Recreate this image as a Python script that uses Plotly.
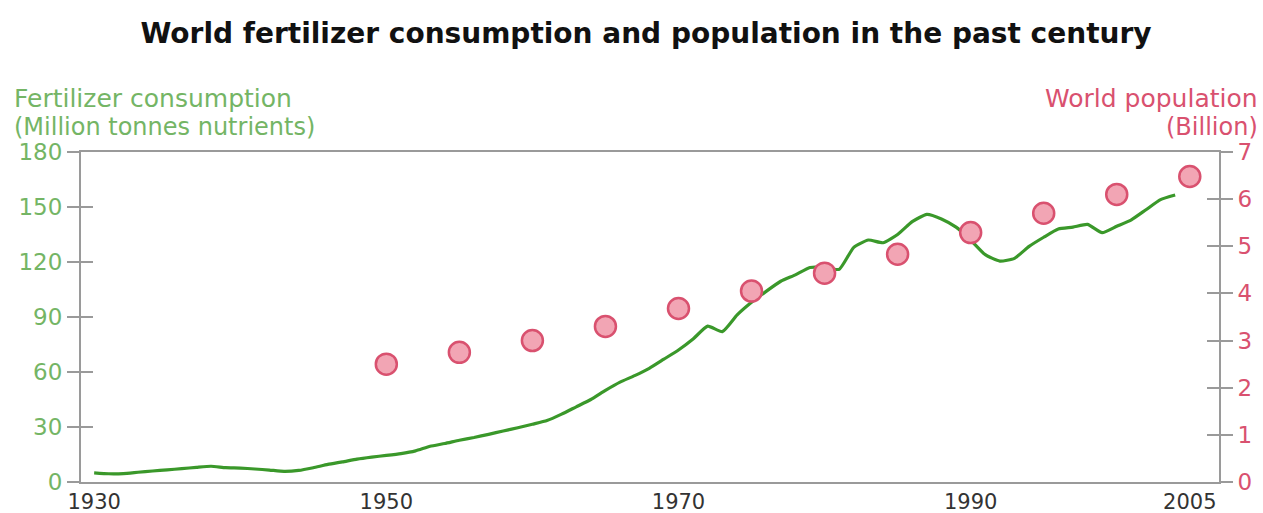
import plotly.graph_objects as go

# ---- data ----
fert_years = list(range(1930, 2005))
fert_values = [
    5.0, 4.5, 4.6, 5.3, 6.0, 6.6, 7.3, 8.0, 8.6, 7.8,
    7.6, 7.1, 6.5, 5.8, 6.3, 7.8, 9.6, 11.0, 12.5, 13.6,
    14.5, 15.5, 17.0, 19.5, 21.0, 22.8, 24.3, 26.0, 27.8, 29.6,
    31.5, 33.5, 37.0, 41.0, 45.0, 50.0, 54.5, 58.0, 62.0, 67.0,
    72.0, 78.0, 85.0, 82.0, 91.0, 98.0, 104.0, 109.5, 113.0, 117.0,
    117.0, 116.0, 128.0, 132.0, 130.5, 135.0, 142.0, 146.0, 143.5, 139.0,
    132.0, 124.0, 120.5, 122.0, 128.5, 133.5, 138.0, 139.0, 140.5, 136.0,
    139.5, 143.0, 148.5, 154.0, 156.5,
]
pop_years = [1950, 1955, 1960, 1965, 1970, 1975, 1980, 1985, 1990, 1995, 2000, 2005]
pop_values = [2.5, 2.75, 3.0, 3.3, 3.68, 4.05, 4.43, 4.83, 5.29, 5.7, 6.1, 6.48]

x_ticks = [1930, 1950, 1970, 1990, 2005]
left_ticks = [0, 30, 60, 90, 120, 150, 180]
right_ticks = [0, 1, 2, 3, 4, 5, 6, 7]

GREEN_TXT = "#74b565"
GREEN_LINE = "#3a982a"
PINK = "#d9516f"
AXIS = "#9a9a9a"
FONT = "DejaVu Sans"

fig = go.Figure()
fig.add_trace(go.Scatter(
    x=fert_years, y=fert_values, mode="lines",
    line=dict(color=GREEN_LINE, width=3.2, shape="spline", smoothing=0.5),
    yaxis="y", showlegend=False,
))
fig.add_trace(go.Scatter(
    x=pop_years, y=pop_values, mode="markers",
    marker=dict(size=21, color="#f2a5b4", line=dict(color=PINK, width=2.5)),
    yaxis="y2", showlegend=False,
))
# empty traces so the inside-tick overlay axes are drawn
fig.add_trace(go.Scatter(x=[], y=[], yaxis="y3", showlegend=False))
fig.add_trace(go.Scatter(x=[], y=[], yaxis="y4", showlegend=False))

fig.update_layout(
    width=1263, height=513,
    margin=dict(l=81, r=44, t=152, b=31, autoexpand=False),
    paper_bgcolor="white", plot_bgcolor="white",
    font=dict(family=FONT),
    title=dict(
        text="<b>World fertilizer consumption and population in the past century</b>",
        x=646 / 1263, xanchor="center", y=1 - 33 / 513, yanchor="middle",
        font=dict(size=28, color="#111111", family=FONT),
    ),
    xaxis=dict(
        range=[1929.1, 2007.0], tickvals=x_ticks, ticks="",
        showline=True, linecolor=AXIS, linewidth=2, mirror=True,
        showgrid=False, zeroline=False, automargin=False,
        tickfont=dict(size=21, color="#333333"),
    ),
    yaxis=dict(
        range=[0, 180], tickvals=left_ticks, ticks="outside", ticklen=12,
        tickcolor=AXIS, tickwidth=2, showline=True, linecolor=AXIS, linewidth=2,
        showgrid=False, zeroline=False, automargin=False,
        tickfont=dict(size=23, color=GREEN_TXT),
    ),
    yaxis2=dict(
        range=[0, 7], tickvals=right_ticks, overlaying="y", side="right",
        ticks="outside", ticklen=12, tickcolor=AXIS, tickwidth=2,
        showline=True, linecolor=AXIS, linewidth=2,
        showgrid=False, zeroline=False, automargin=False,
        tickfont=dict(size=23, color=PINK),
    ),
    yaxis3=dict(
        range=[0, 180], tickvals=left_ticks, overlaying="y", side="left",
        ticks="inside", ticklen=12, tickcolor=AXIS, tickwidth=2,
        showticklabels=False, showline=False, showgrid=False, zeroline=False,
        automargin=False,
    ),
    yaxis4=dict(
        range=[0, 7], tickvals=right_ticks, overlaying="y", side="right",
        ticks="inside", ticklen=12, tickcolor=AXIS, tickwidth=2,
        showticklabels=False, showline=False, showgrid=False, zeroline=False,
        automargin=False,
    ),
)

def px_x(p):
    return (p - 81) / (1263 - 81 - 44)

def px_y(p):
    return (482 - p) / (482 - 152)

anns = [
    ("Fertilizer consumption", 12, 98, "left", GREEN_TXT, 25),
    ("(Million tonnes nutrients)", 12, 127, "left", GREEN_TXT, 24),
    ("World population", 1260, 98, "right", PINK, 25),
    ("(Billion)", 1260, 127, "right", PINK, 24),
]
for text, xp, yp, anc, col, fs in anns:
    fig.add_annotation(
        text=text, xref="paper", yref="paper", x=px_x(xp), y=px_y(yp),
        xanchor=anc, yanchor="middle", showarrow=False,
        font=dict(size=fs, color=col, family=FONT),
    )

fig.write_html(
    "out.html",
    config={"displayModeBar": False},
    post_script="document.body.style.margin='0';document.body.style.overflow='hidden';",
)
